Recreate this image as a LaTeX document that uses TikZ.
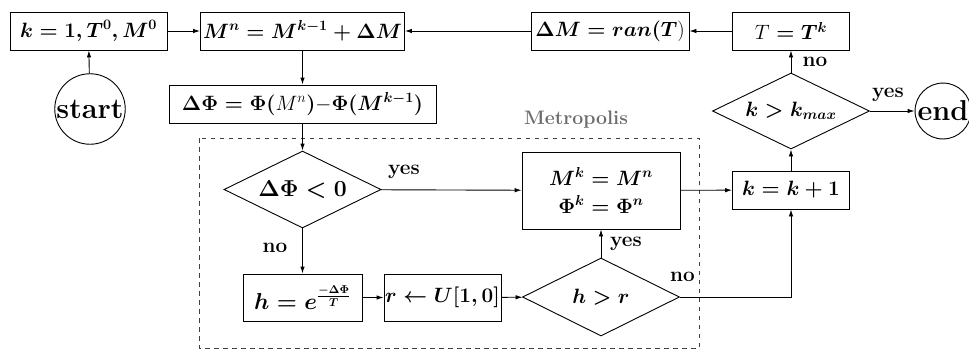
\documentclass[tikz,border=0pt]{standalone}
\usepackage{fix-cm}
\usepackage{amsmath}
\usetikzlibrary{shapes.geometric,arrows.meta}
\newcommand\mfont{\fontsize{20.74}{28}\selectfont\boldmath}
\newcommand\bigmfont{\fontsize{23}{28}\selectfont\boldmath}
\newcommand\lfont{\fontsize{20.74}{24}\selectfont\bfseries}
\newcommand\mtfont{\fontsize{19.5}{24}\selectfont\bfseries}
\newcommand\cfont{\fontsize{28.8}{34}\selectfont\bfseries}
\begin{document}
\begin{tikzpicture}[x=1pt,y=-1pt,
  line width=0.9pt,
  arr/.style={-{Latex[length=7pt,width=4.5pt]}},
  bx/.style={draw, inner sep=0pt, minimum width=#1, minimum height=38pt, font=\mfont},
  dia/.style={draw, shape=diamond, aspect=2, inner sep=0pt, minimum width=157pt, minimum height=#1, font=\mfont},
  circ/.style={draw, circle, inner sep=0.5pt, font=\cfont},
  lab/.style={font=\lfont, inner sep=0pt}]
\useasboundingbox (0,0) rectangle (969,351);
% top row
\node[bx=157pt] (A) at (88.5,31) {$k=1,T^0,M^0$};
\node[bx=204pt] (B) at (302.5,31) {$M^n=M^{k-1}+\Delta M$};
\node[bx=158pt] (D) at (610,31) {$\Delta M=ran(T\mbox{\unboldmath$)$}$};
\node[bx=117pt] (E) at (791,31) {$\mbox{\unboldmath$T$}=T^k$};
\node[circ] (S) at (90,109) {start};
\node[bx=267pt] (C) at (302.5,104) {$\Delta\Phi=\Phi(\mbox{\unboldmath$M^n$})\mbox{\unboldmath$-$}\Phi(M^{k-1})$};
% right side
\node[dia=76pt] (F) at (791,111) {$k>k_{max}$};
\node[circ] (End) at (943,111) {end};
\node[bx=117pt] (I) at (791,190) {$k=k+1$};
% metropolis
\draw[dashed, dash pattern=on 4.5pt off 4.5pt, gray!50!black] (199,138) rectangle (699,348);
\node[font=\mtfont, text=gray!85!black] (Met) at (576,120) {Metropolis};
\node[dia=77pt, font=\bigmfont] (G) at (302.5,189.5) {$\Delta\Phi<0$};
\node[draw, inner sep=0pt, minimum width=158pt, minimum height=77pt, font=\mfont, align=center] (H) at (601,190.5) {$M^k=M^n$\\$\Phi^k=\Phi^n$};
\node[bx=119pt, minimum height=47pt, font=\bigmfont] (J) at (302.5,297.5) {$h=e^{\frac{-\Delta\Phi}{T}}$};
\node[bx=117pt, minimum height=47pt] (K) at (442.5,297.5) {$r\leftarrow U[1,0]$};
\node[dia=78pt] (L) at (601,297) {$h>r$};
% connectors
\draw[arr] (S) -- (A);
\draw[arr] (A) -- (B);
\draw[arr] (D) -- (B);
\draw[arr] (E) -- (D);
\draw[arr] (B) -- (C);
\draw[arr] (C) -- (G);
\draw[arr] (G) -- (H);
\draw[arr] (G) -- (J);
\draw[arr] (J) -- (K);
\draw[arr] (K) -- (L);
\draw[arr] (L) -- (H);
\draw[arr] (L.east) -| (I.south);
\draw[arr] (H) -- (I);
\draw[arr] (I) -- (F);
\draw[arr] (F) -- (E);
\draw[arr] (F) -- (End);
% labels
\node[lab] (l1) at (404,172) {yes};
\node[lab] (l2) at (275,248) {no};
\node[lab] (l3) at (626,244) {yes};
\node[lab] (l4) at (682.5,277) {no};
\node[lab] (l5) at (815,62) {no};
\node[lab] (l6) at (888,95) {yes};
\end{tikzpicture}
\end{document}
